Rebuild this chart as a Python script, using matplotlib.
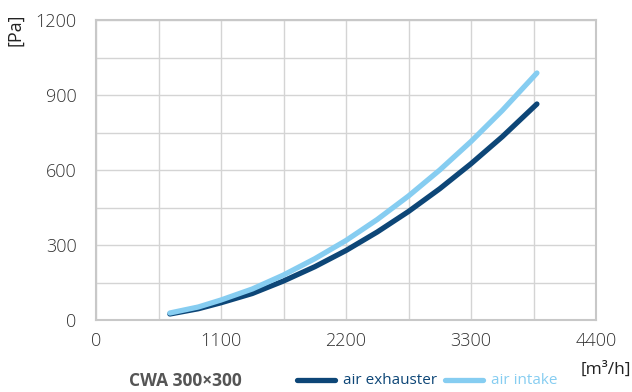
import matplotlib
matplotlib.use("Agg")
import matplotlib.pyplot as plt
from matplotlib.lines import Line2D

# air flow [m3/h] and pressure drop [Pa]
flow = [650, 900, 1100, 1375, 1650, 1925, 2200, 2475, 2750, 3025, 3300, 3575, 3880]
exhaust_pa = [24, 45, 69, 106, 156, 213, 278, 352, 434, 525, 625, 733, 864]
intake_pa = [28, 52, 80, 124, 180, 245, 318, 402, 496, 600, 714, 838, 988]

x_ticks = [0, 1100, 2200, 3300, 4400]
y_ticks = [0, 300, 600, 900, 1200]

DARK = "#0d4677"
LIGHT = "#86cdf1"
TXT = "#333333"

plt.rcParams["font.family"] = ["Open Sans", "DejaVu Sans"]

fig = plt.figure(figsize=(6.32, 3.92), dpi=100)
ax = fig.add_axes([96 / 632, 1 - 320 / 392, 500 / 632, 300 / 392])

ax.plot(flow, exhaust_pa, color=DARK, lw=3.8, solid_capstyle="round",
        solid_joinstyle="round", zorder=3)
ax.plot(flow, intake_pa, color=LIGHT, lw=3.8, solid_capstyle="round",
        solid_joinstyle="round", zorder=4)

ax.set_xlim(0, 4400)
ax.set_ylim(0, 1200)
ax.set_xticks(x_ticks)
ax.set_yticks(y_ticks)
ax.set_xticks(range(550, 4400, 1100), minor=True)
ax.set_yticks(range(150, 1200, 300), minor=True)
ax.grid(True, which="both", color="#d4d4d4", lw=1)
ax.set_axisbelow(True)
ax.tick_params(which="both", length=0)
ax.tick_params(axis="x", pad=9, labelsize=13, labelcolor=TXT)
ax.tick_params(axis="y", pad=14, labelsize=13, labelcolor=TXT)
for lab in ax.get_xticklabels() + ax.get_yticklabels():
    lab.set_fontweight("light")
for s in ax.spines.values():
    s.set_color("#c8c8c8")
    s.set_linewidth(1.5)

fig.text(15 / 632, 1 - 30 / 392, "[Pa]", rotation=90, ha="center", va="center",
         fontsize=13, color="#222222")
fig.text(631 / 632, 1 - 370 / 392, "[m³/h]", ha="right", va="center",
         fontsize=12.5, color="#222222")
fig.text(185 / 632, 1 - 381 / 392, "CWA 300×300", ha="center", va="center",
         fontsize=12.5, fontweight="bold", color="#555555")

fig.add_artist(Line2D([297 / 632, 335 / 632], [1 - 380 / 392] * 2, color=DARK,
                      lw=3.8, solid_capstyle="round"))
fig.text(343 / 632, 1 - 381 / 392, "air exhauster", ha="left", va="center",
         fontsize=11, color=DARK)
fig.add_artist(Line2D([445 / 632, 483 / 632], [1 - 380 / 392] * 2, color=LIGHT,
                      lw=3.8, solid_capstyle="round"))
fig.text(491 / 632, 1 - 381 / 392, "air intake", ha="left", va="center",
         fontsize=11, color=LIGHT)

fig.savefig("out.png", dpi=100)
